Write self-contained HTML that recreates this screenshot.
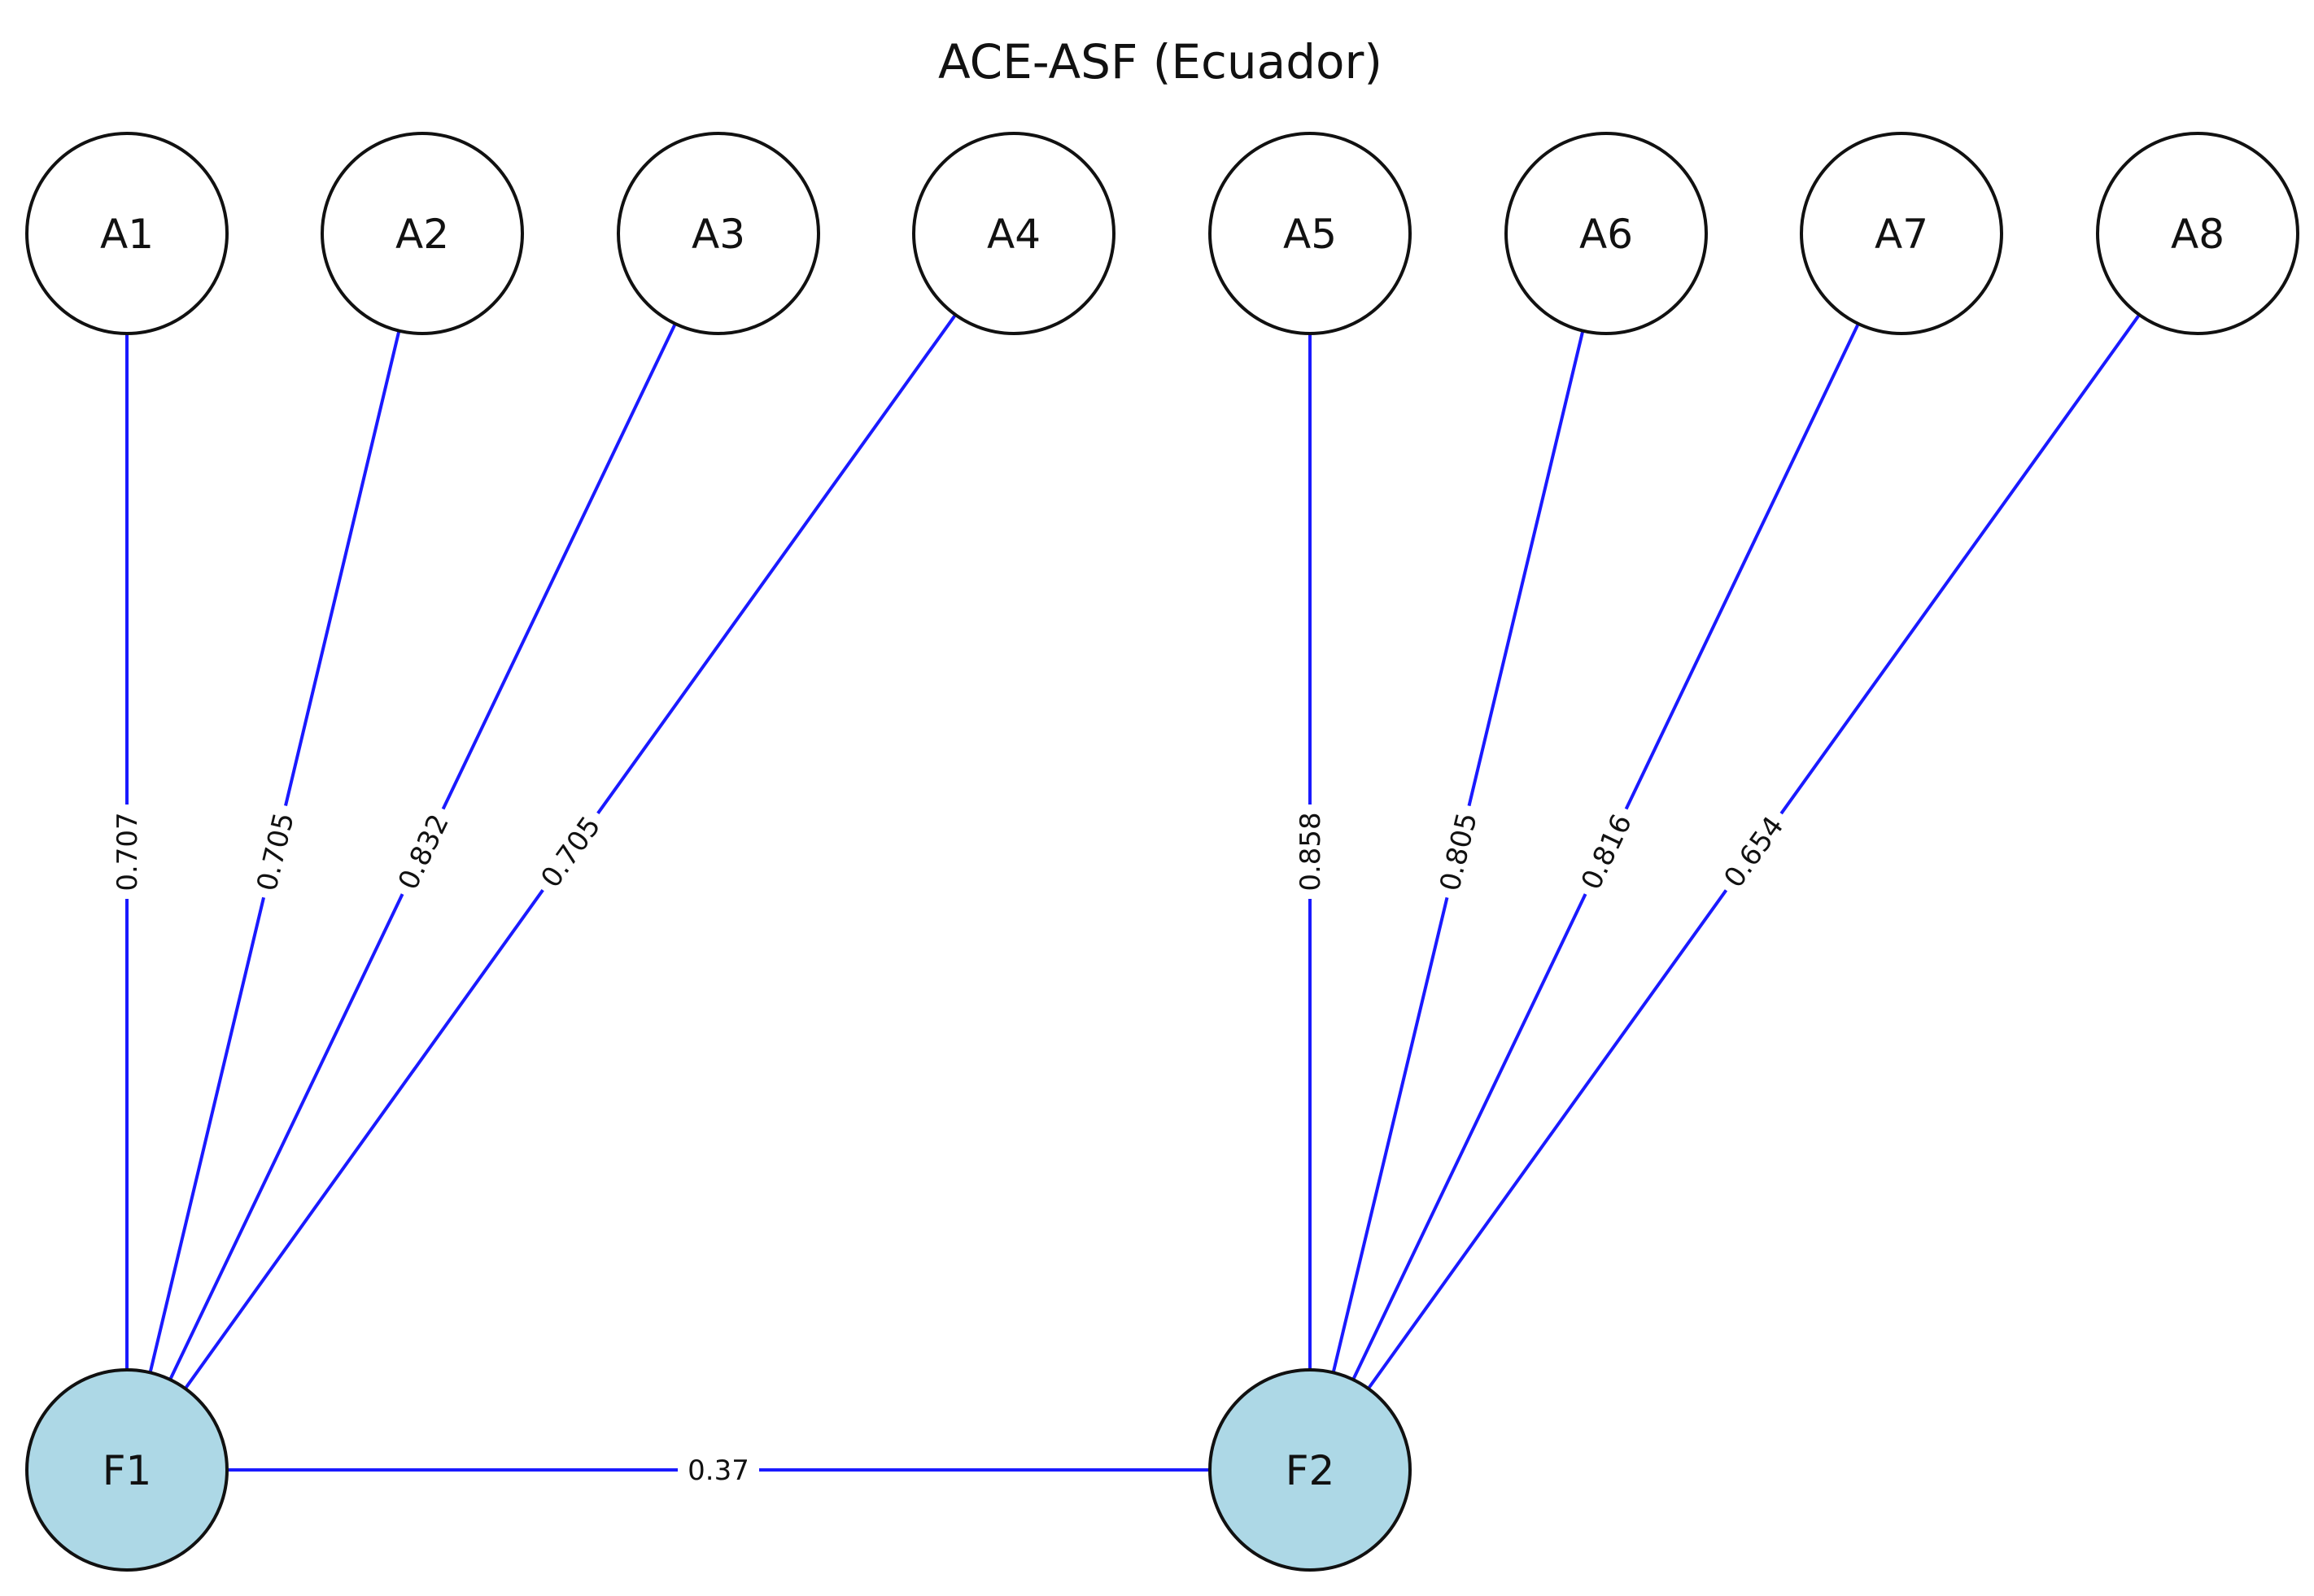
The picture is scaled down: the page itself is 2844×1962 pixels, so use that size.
<!DOCTYPE html>
<html><head><meta charset="utf-8"><style>html,body{margin:0;padding:0;background:#fff}</style></head>
<body>
<svg width="2844" height="1957" viewBox="0 0 2844 1957" xmlns="http://www.w3.org/2000/svg" font-family="'DejaVu Sans','Liberation Sans',sans-serif">
<rect width="2844" height="1957" fill="#fff"/>
<text x="1426" y="96" font-size="58" text-anchor="middle" fill="#111">ACE-ASF (Ecuador)</text>
<g stroke="#1a1aff" stroke-width="4">
<line x1="156" y1="287" x2="156" y2="1807"/>
<line x1="519" y1="287" x2="156" y2="1807"/>
<line x1="883" y1="287" x2="156" y2="1807"/>
<line x1="1246" y1="287" x2="156" y2="1807"/>
<line x1="1610" y1="287" x2="1610" y2="1807"/>
<line x1="1974" y1="287" x2="1610" y2="1807"/>
<line x1="2337" y1="287" x2="1610" y2="1807"/>
<line x1="2701" y1="287" x2="1610" y2="1807"/>
<line x1="156" y1="1807" x2="1610" y2="1807"/>
</g>
<g font-size="34" fill="#111" text-anchor="middle">
<g transform="translate(156,1047) rotate(-90)"><rect x="-58" y="-22" width="116" height="44" fill="#fff"/><text y="12">0.707</text></g>
<g transform="translate(338,1047) rotate(-76.55)"><rect x="-58" y="-22" width="116" height="44" fill="#fff"/><text y="12">0.705</text></g>
<g transform="translate(520,1047) rotate(-64.4)"><rect x="-58" y="-22" width="116" height="44" fill="#fff"/><text y="12">0.832</text></g>
<g transform="translate(701,1047) rotate(-54.3)"><rect x="-58" y="-22" width="116" height="44" fill="#fff"/><text y="12">0.705</text></g>
<g transform="translate(1610,1047) rotate(-90)"><rect x="-58" y="-22" width="116" height="44" fill="#fff"/><text y="12">0.858</text></g>
<g transform="translate(1792,1047) rotate(-76.55)"><rect x="-58" y="-22" width="116" height="44" fill="#fff"/><text y="12">0.805</text></g>
<g transform="translate(1974,1047) rotate(-64.4)"><rect x="-58" y="-22" width="116" height="44" fill="#fff"/><text y="12">0.816</text></g>
<g transform="translate(2155,1047) rotate(-54.3)"><rect x="-58" y="-22" width="116" height="44" fill="#fff"/><text y="12">0.654</text></g>
<g transform="translate(883,1807)"><rect x="-50" y="-22" width="100" height="44" fill="#fff"/><text y="12">0.37</text></g>
</g>
<g stroke="#111" stroke-width="4" fill="#fff">
<circle cx="156" cy="287" r="123"/><circle cx="519" cy="287" r="123"/><circle cx="883" cy="287" r="123"/><circle cx="1246" cy="287" r="123"/>
<circle cx="1610" cy="287" r="123"/><circle cx="1974" cy="287" r="123"/><circle cx="2337" cy="287" r="123"/><circle cx="2701" cy="287" r="123"/>
<circle cx="156" cy="1807" r="123" fill="#add8e6"/><circle cx="1610" cy="1807" r="123" fill="#add8e6"/>
</g>
<g font-size="50" fill="#111" text-anchor="middle">
<text x="156" y="305">A1</text><text x="519" y="305">A2</text><text x="883" y="305">A3</text><text x="1246" y="305">A4</text>
<text x="1610" y="305">A5</text><text x="1974" y="305">A6</text><text x="2337" y="305">A7</text><text x="2701" y="305">A8</text>
<text x="156" y="1825">F1</text><text x="1610" y="1825">F2</text>
</g>
</svg>
</body></html>
